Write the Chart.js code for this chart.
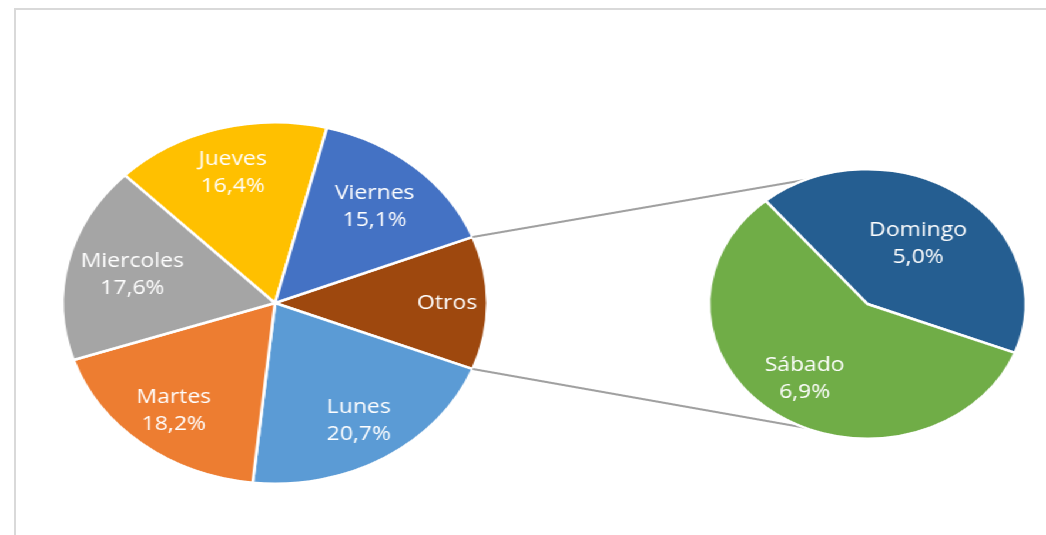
<!DOCTYPE html>
<html>
<head>
<meta charset="utf-8">
<script src="https://cdn.jsdelivr.net/npm/chart.js@4.4.0/dist/chart.umd.min.js"></script>
<style>
    html, body { margin: 0; padding: 0; background: #fff; overflow: hidden; }
    #frame {
        position: absolute; left: 14px; top: 8px; width: 1100px; height: 600px;
        border-top: 2px solid #d9d9d9; border-left: 2px solid #d9d9d9;
    }
    #stage {
        position: absolute; left: 0; top: 0; width: 890px; height: 535px;
        transform: scaleX(1.1753); transform-origin: 0 0;
    }
    #stage canvas { position: absolute; left: 0; top: 0; }
</style>
</head>
<body>
<div id="frame"></div>
<div id="stage">
    <canvas id="mainPie" width="890" height="535"></canvas>
    <canvas id="subPie" width="890" height="535"></canvas>
</div>
<script>
const mainLabels = ["Otros", "Lunes", "Martes", "Miercoles", "Jueves", "Viernes"];
const mainValues = [11.9, 20.7, 18.2, 17.6, 16.4, 15.1];
const mainColors = ["#9E480E", "#5B9BD5", "#ED7D31", "#A5A5A5", "#FFC000", "#4472C4"];

const subLabels = ["Domingo", "Sábado"];
const subValues = [5.0, 6.9];
const subColors = ["#255E91", "#70AD47"];

// how far out (fraction of radius) each label sits
const mainLabelRadius = [0.81, 0.76, 0.76, 0.69, 0.75, 0.71];
const subLabelRadius = [0.55, 0.68];

const fontFamily = '"Open Sans", "Noto Sans", sans-serif';

function pct(v) {
    return v.toFixed(1).replace(".", ",") + "%";
}

// white two-line labels inside the slices
function sliceLabels(factors, skipPct) {
    return {
        id: "sliceLabels",
        afterDatasetsDraw(chart) {
            const ctx = chart.ctx;
            const meta = chart.getDatasetMeta(0);
            const values = chart.data.datasets[0].data;
            ctx.save();
            ctx.fillStyle = "#ffffff";
            ctx.font = "19.5px " + fontFamily;
            ctx.textAlign = "center";
            ctx.textBaseline = "middle";
            meta.data.forEach((arc, i) => {
                const mid = (arc.startAngle + arc.endAngle) / 2;
                const r = arc.outerRadius * factors[i];
                const x = arc.x + Math.cos(mid) * r;
                const y = arc.y + Math.sin(mid) * r;
                const name = chart.data.labels[i];
                if (skipPct.includes(name)) {
                    ctx.fillText(name, x, y);
                } else {
                    ctx.fillText(name, x, y - 13);
                    ctx.fillText(pct(values[i]), x, y + 14);
                }
            });
            ctx.restore();
        }
    };
}

const otrosShare = mainValues[0] / mainValues.reduce((a, b) => a + b, 0);

const mainChart = new Chart(document.getElementById("mainPie").getContext("2d"), {
    type: "pie",
    data: {
        labels: mainLabels,
        datasets: [{
            data: mainValues,
            backgroundColor: mainColors,
            borderColor: "#ffffff",
            borderWidth: 2.5
        }]
    },
    options: {
        responsive: false,
        animation: false,
        devicePixelRatio: 1,
        rotation: 90 - otrosShare * 180,
        layout: { padding: { left: 52, right: 474, top: 121, bottom: 50 } },
        plugins: { legend: { display: false }, tooltip: { enabled: false } }
    },
    plugins: [sliceLabels(mainLabelRadius, ["Otros"])]
});

// grey lines from the "Otros" slice to the top and bottom of the second pie
const connectors = {
    id: "connectors",
    beforeDatasetsDraw(chart) {
        const otros = mainChart.getDatasetMeta(0).data[0];
        const sub = chart.getDatasetMeta(0).data[0];
        const ctx = chart.ctx;
        ctx.save();
        ctx.strokeStyle = "#a0a0a0";
        ctx.lineWidth = 2;
        ctx.beginPath();
        ctx.moveTo(otros.x + Math.cos(otros.startAngle) * otros.outerRadius,
                   otros.y + Math.sin(otros.startAngle) * otros.outerRadius);
        ctx.lineTo(sub.x, sub.y - sub.outerRadius);
        ctx.moveTo(otros.x + Math.cos(otros.endAngle) * otros.outerRadius,
                   otros.y + Math.sin(otros.endAngle) * otros.outerRadius);
        ctx.lineTo(sub.x, sub.y + sub.outerRadius);
        ctx.stroke();
        ctx.restore();
    }
};

const subChart = new Chart(document.getElementById("subPie").getContext("2d"), {
    type: "pie",
    data: {
        labels: subLabels,
        datasets: [{
            data: subValues,
            backgroundColor: subColors,
            borderColor: "#ffffff",
            borderWidth: 2.5
        }]
    },
    options: {
        responsive: false,
        animation: false,
        devicePixelRatio: 1,
        rotation: -40,
        layout: { padding: { left: 602, right: 16, top: 168, bottom: 95 } },
        plugins: { legend: { display: false }, tooltip: { enabled: false } }
    },
    plugins: [connectors, sliceLabels(subLabelRadius, [])]
});
</script>
</body>
</html>
